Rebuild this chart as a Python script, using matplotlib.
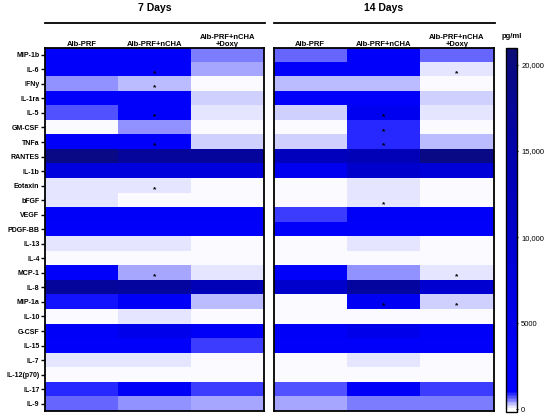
import numpy as np
import matplotlib
matplotlib.use("Agg")
import matplotlib.pyplot as plt
from matplotlib.colors import LinearSegmentedColormap, Normalize

plt.rcParams['font.family'] = ['Liberation Sans', 'DejaVu Sans']

cytokines = ["MIP-1b", "IL-6", "IFNy", "IL-1ra", "IL-5", "GM-CSF", "TNFa", "RANTES",
             "IL-1b", "Eotaxin", "bFGF", "VEGF", "PDGF-BB", "IL-13", "IL-4", "MCP-1",
             "IL-8", "MIP-1a", "IL-10", "G-CSF", "IL-15", "IL-7", "IL-12(p70)", "IL-17", "IL-9"]
groups = ["Alb-PRF", "Alb-PRF+nCHA", "Alb-PRF+nCHA\n+Doxy"]
panels = ["7 Days", "14 Days"]

day7 = [
    [2000, 2000, 529], [2000, 2000, 412], [510, 333, 55], [2000, 2000, 200],
    [700, 2000, 118], [75, 510, 50], [2000, 2000, 255], [19500, 17000, 17000],
    [7000, 7500, 7500], [118, 98, 35], [157, 35, 59], [2500, 2500, 2500],
    [2200, 2200, 2200], [118, 98, 20], [59, 78, 40], [2000, 373, 98],
    [17000, 16500, 13000], [950, 2500, 275], [50, 98, 20], [2500, 5000, 2500],
    [2000, 2200, 785], [176, 118, 59], [59, 59, 25], [843, 2500, 765], [650, 490, 392],
]
day14 = [
    [608, 2000, 608], [2000, 2000, 137], [294, 294, 78], [2000, 2000, 216],
    [216, 4200, 157], [59, 920, 25], [255, 843, 333], [12300, 13000, 19500],
    [4200, 10000, 8000], [39, 98, 39], [39, 157, 59], [804, 2500, 2500],
    [2200, 2200, 2200], [59, 118, 59], [59, 78, 59], [2000, 490, 118],
    [10000, 16500, 9500], [20, 3500, 216], [20, 78, 20], [2500, 5000, 2500],
    [2200, 2200, 2200], [59, 98, 39], [39, 59, 30], [725, 2500, 804], [353, 529, 569],
]
# significance marks: (row label, group index)
stars7 = [("IL-6", 1), ("IFNy", 1), ("IL-5", 1), ("TNFa", 1), ("Eotaxin", 1), ("MCP-1", 1)]
stars14 = [("IL-6", 2), ("IL-5", 1), ("GM-CSF", 1), ("TNFa", 1), ("bFGF", 1),
           ("MCP-1", 2), ("MIP-1a", 1), ("MIP-1a", 2)]
cbar_ticks = [0, 5000, 10000, 15000, 20000]
cbar_labels = ["0", "5000", "10,000", "15,000", "20,000"]

vmin, vmax = -150, 21000
nodes = [(-150, (1, 1, 1)), (0, (1, 1, 1)), (1000, (0, 0, 1)),
         (2500, (0, 0, 250/255)), (5000, (0, 0, 235/255)), (10000, (0, 0, 205/255)),
         (15000, (2/255, 2/255, 172/255)), (20000, (10/255, 10/255, 130/255)),
         (21000, (14/255, 14/255, 115/255))]
cmap = LinearSegmentedColormap.from_list(
    "prism", [((v - vmin) / (vmax - vmin), c) for v, c in nodes])
norm = Normalize(vmin=vmin, vmax=vmax)

W, H = 550, 416
fig = plt.figure(figsize=(W/100, H/100), dpi=100)

def fx(x): return x / W
def fy(y): return 1 - y / H

top, bot = 47.5, 411
boxes = [(45, 264), (273.5, 493.5)]
for pi, (data, stars, (x0, x1)) in enumerate(zip([day7, day14], [stars7, stars14], boxes)):
    ax = fig.add_axes([fx(x0), fy(bot), (x1 - x0) / W, (bot - top) / H])
    ax.imshow(np.array(data, dtype=float), cmap=cmap, norm=norm, aspect='auto',
              interpolation='nearest')
    for sp in ax.spines.values():
        sp.set_linewidth(1.3)
        sp.set_color('black')
    ax.set_xticks([])
    if pi == 0:
        ax.set_yticks(range(len(cytokines)))
        ax.set_yticklabels(cytokines, fontsize=5, fontweight='bold')
        ax.tick_params(axis='y', length=3, width=1, pad=1)
    else:
        ax.set_yticks([])
    for name, gi in stars:
        ax.text(gi, cytokines.index(name) + 0.28, "*", ha='center', va='center',
                fontsize=6, fontweight='bold', color='black')
    # column headers
    for gi, g in enumerate(groups):
        ax.text(gi, -0.45, g, ha='center', va='bottom', fontsize=5.5,
                fontweight='bold', linespacing=1.0)
    # panel title and line
    fig.text(fx((x0 + x1) / 2), fy(8), panels[pi], ha='center', va='center',
             fontsize=7.5, fontweight='bold')
    fig.add_artist(plt.Line2D([fx(x0), fx(x1 + 1)], [fy(22.5), fy(22.5)],
                              color='black', lw=1.3))

cax = fig.add_axes([fx(505.5), fy(412), 11.5 / W, (412 - 47.5) / H])
sm = matplotlib.cm.ScalarMappable(norm=norm, cmap=cmap)
cb = fig.colorbar(sm, cax=cax, ticks=cbar_ticks)
cb.ax.set_yticklabels(cbar_labels, fontsize=5.5)
cb.ax.tick_params(length=2, width=0.8, direction='inout', pad=2)
cb.outline.set_linewidth(1.0)
fig.text(fx(512), fy(37), "pg/ml", ha='center', va='center', fontsize=5.5, fontweight='bold')

fig.savefig("out.png", dpi=100)
